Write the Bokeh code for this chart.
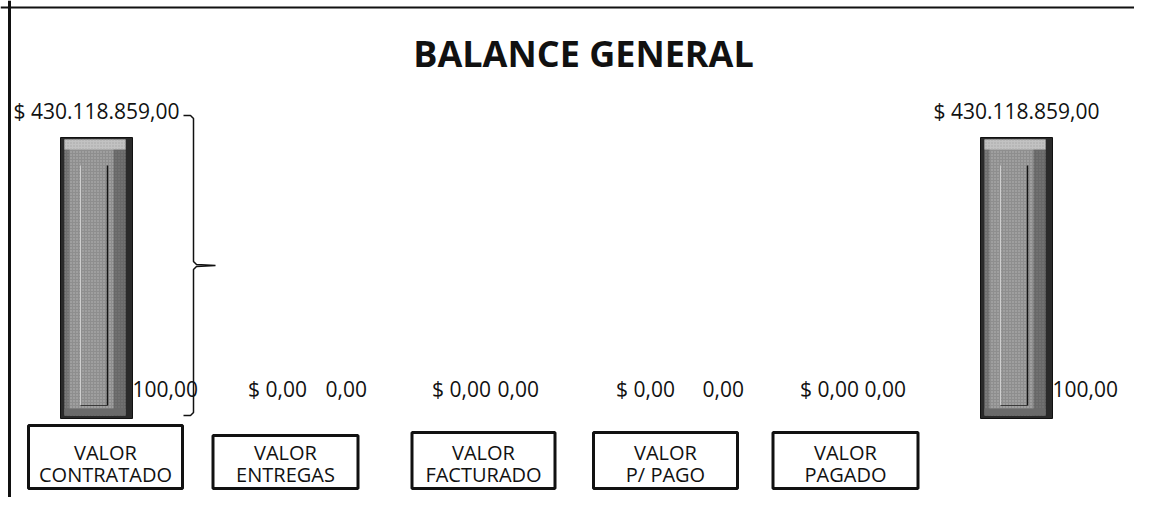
import numpy as np
from bokeh.plotting import figure
from bokeh.models import Range1d, Span, Label
from bokeh.core.properties import value
from bokeh.embed import file_html
from bokeh.resources import INLINE

# ---------------- data ----------------
categories = ["VALOR CONTRATADO", "VALOR ENTREGAS", "VALOR FACTURADO",
              "VALOR P/ PAGO", "VALOR PAGADO", "SALDO"]
label_line1 = ["VALOR", "VALOR", "VALOR", "VALOR", "VALOR"]
label_line2 = ["CONTRATADO", "ENTREGAS", "FACTURADO", "P/ PAGO", "PAGADO"]
amounts = [430118859.00, 0.00, 0.00, 0.00, 0.00, 430118859.00]
percents = [100.00, 0.00, 0.00, 0.00, 0.00, 100.00]
title_text = "BALANCE GENERAL"


def fmt(v):
    s = f"{v:,.2f}"
    return s.replace(",", "X").replace(".", ",").replace("X", ".")


# ---------------- layout (pixels) ----------------
W, H = 1134, 497
SP = 184          # px between categories
X0 = 96           # screen x of first category
Y0 = 418          # screen y of the baseline
BAR_PX = 281      # px height of the largest bar
k = BAR_PX / max(amounts)

x_start = -X0 / SP
x_end = (W - X0) / SP
y_start = -(H - Y0) / k
y_end = Y0 / k


def dx(px):
    return px / SP


def dy(px):
    return px / k


p = figure(width=W, height=H, x_range=Range1d(x_start, x_end),
           y_range=Range1d(y_start, y_end), output_backend="svg",
           toolbar_location=None, min_border=0)
p.axis.visible = False
p.grid.visible = False
p.outline_line_color = None
p.background_fill_color = "white"
p.border_fill_color = "white"

n = len(categories)
idx = [i for i, v in enumerate(amounts) if v > 0]
xs = np.array(idx, dtype=float)
tops = np.array([amounts[i] for i in idx])

# ---------------- bars (bevelled grey) ----------------
p.quad(left=xs - dx(36), right=xs + dx(36), top=tops, bottom=0,
       fill_color="#2a2a2a", line_color="#111111", line_width=1)
p.quad(left=xs - dx(32), right=xs + dx(29), top=tops - dy(2), bottom=dy(3),
       fill_color="#8e8e8e", line_color=None,
       hatch_pattern="dot", hatch_color="#d8d8d8", hatch_scale=3, hatch_alpha=0.55)
p.quad(left=xs + dx(17), right=xs + dx(29), top=tops - dy(2), bottom=dy(3),
       fill_color="#3a3a3a", fill_alpha=0.45, line_color=None)
p.quad(left=xs - dx(32), right=xs - dx(27), top=tops - dy(2), bottom=dy(3),
       fill_color="#3a3a3a", fill_alpha=0.35, line_color=None)
p.quad(left=xs - dx(32), right=xs + dx(29), top=tops - dy(2), bottom=tops - dy(12),
       fill_color="#c2c2c2", line_color=None,
       hatch_pattern="dot", hatch_color="#888888", hatch_scale=3, hatch_alpha=0.5)
p.quad(left=xs - dx(32), right=xs + dx(29), top=dy(10), bottom=dy(3),
       fill_color="#6a6a6a", line_color=None)
p.segment(x0=xs + dx(11), y0=tops - dy(28), x1=xs + dx(11), y1=dy(13),
          line_color="#151515", line_width=1.5)
p.segment(x0=xs - dx(16), y0=tops - dy(28), x1=xs - dx(16), y1=dy(13),
          line_color="#cfcfcf", line_width=1)
p.segment(x0=xs - dx(16), y0=dy(13), x1=xs + dx(11), y1=dy(13),
          line_color="#3a3a3a", line_width=1)

# ---------------- value labels ----------------
amount_text = ["$ " + fmt(v) for v in amounts]
amount_x = [i if amounts[i] > 0 else i - dx(3) for i in range(n)]
amount_y = [v + dy(27) if v > 0 else dy(30) for v in amounts]
p.text(x=amount_x, y=amount_y, text=amount_text,
       text_font=value("Open Sans"), text_font_size="21px",
       text_align="center", text_baseline="middle", text_color="#111111")

pct_off = [36, 45, 33, 54, 32, 36]
pct_text = [fmt(v) for v in percents]
p.text(x=[i + dx(pct_off[i]) for i in range(n)], y=[dy(30)] * n, text=pct_text,
       text_font=value("Open Sans"), text_font_size="21px",
       text_align="left", text_baseline="middle", text_color="#111111")

# ---------------- brace next to first bar ----------------
ytop = amounts[0] + dy(22)
ybot = dy(3)
ymid = (ytop + ybot) / 2
xv, xt, xe = dx(97), dx(119), dx(87)
bx = [xe, xv - dx(3), xv, xv, xv + dx(3), xt, xv + dx(3), xv, xv, xv - dx(3), xe]
by = [ytop, ytop, ytop - dy(3), ymid + dy(4), ymid + dy(1), ymid,
      ymid - dy(1), ymid - dy(4), ybot + dy(3), ybot, ybot]
p.line(bx, by, line_color="#111111", line_width=1.5)

# ---------------- category boxes ----------------
box_off = [9, 5, 19, 17, 13]
box_w = [154, 145, 143, 144, 145]
box_top = [7, 17, 14, 14, 14]
nb = len(label_line1)
bcx = [i + dx(box_off[i]) for i in range(nb)]
p.quad(left=[bcx[i] - dx(box_w[i] / 2) for i in range(nb)],
       right=[bcx[i] + dx(box_w[i] / 2) for i in range(nb)],
       top=[-dy(box_top[i]) for i in range(nb)],
       bottom=[-dy(70)] * nb,
       fill_color="white", line_color="#111111", line_width=3)
p.text(x=bcx, y=[-dy(34)] * nb, text=label_line1,
       text_font=value("Open Sans"), text_font_size="20px",
       text_align="center", text_baseline="middle", text_color="#111111")
p.text(x=bcx, y=[-dy(56)] * nb, text=label_line2,
       text_font=value("Open Sans"), text_font_size="20px",
       text_align="center", text_baseline="middle", text_color="#111111")

# ---------------- title & frame ----------------
p.add_layout(Label(x=583, y=H - 53, x_units="screen", y_units="screen",
                   text=title_text, text_align="center", text_baseline="middle",
                   text_font="Open Sans", text_font_size="36px",
                   text_font_style="bold", text_color="#111111"))
p.add_layout(Span(location=x_start + dx(9), dimension="height",
                  line_color="#111111", line_width=3))
p.add_layout(Span(location=y_end - dy(7), dimension="width",
                  line_color="#111111", line_width=2))

open("out.html", "w").write(file_html(p, INLINE))
